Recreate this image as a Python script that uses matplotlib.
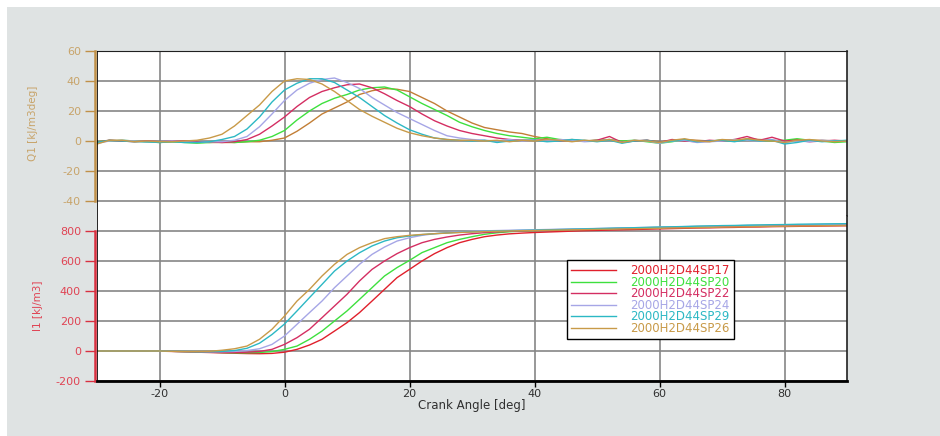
import numpy as np
import matplotlib.pyplot as plt
from matplotlib.patches import Rectangle

plt.rcParams['font.family'] = 'DejaVu Sans'
plt.rcParams['axes.unicode_minus'] = False

# crank angle samples [deg]
crank_angle = list(range(-30, 92, 2))

labels = ["2000H2D44SP17", "2000H2D44SP20", "2000H2D44SP22",
          "2000H2D44SP24", "2000H2D44SP29", "2000H2D44SP26"]

# heat release rate Q1 [kJ/m3deg]
q_sp17 = [-0.5, 0.5, 0, 0, -0.5, -0.5, -0.5, 0, -0.5, -1,
          -1, -1, -0.5, -0.5, 0.5, 2, 6.5, 12, 18, 22, 26, 31, 33.5, 35, 34.5, 33, 29, 25, 20, 16, 12,
          9, 7.5, 6, 5,
          3, 1.5, 0.5, 1, 0, 0.5, 0.5, 0, 0, 0.5, -0.5, 0, 1, 0.5, 0, 0.5, 0, 1.5, 1, 0.5, 0, 1, 0.5, 0.5, 0, 0]
q_sp20 = [-0.5, 0, 0.5, 0, -0.5, -1, -0.5, -1, -1.5, -1,
          -0.5, -1, -0.5, 0.5, 3, 7, 14, 20, 25, 28.5, 31, 34, 35.5, 36, 34, 29.5, 25, 21, 17, 12.5, 9.5,
          7, 5, 3.5, 2.5,
          1.5, 2.5, 1, 0.5, 0, 0.5, 1, 0, 0.5, -0.5, -1.5, -0.5, 1, -0.5, 0, 0.5, 0, 1, 0.5, 0, 0.5, 1.5, 0.5, 0, -1, -0.5]
q_sp22 = [-1, 0.5, 0, -0.5, 0, -0.5, 0, 0, -0.5, -0.5,
          -1, -0.5, 1, 4.5, 10, 16, 23, 29, 33, 35.5, 37.5, 38, 35.5, 31.5, 27, 23, 18, 13.5, 10, 7, 5,
          3.5, 2, 1, 0.5,
          0.5, 1, 0, 0.5, 0, 0.5, 3, -1, 0, 0.5, -1, 1, 0, -0.5, 0.5, 0, 1, 3, 0.5, 2.5, 0, 0.5, -0.5, 0, 0.5, 0]
q_sp24 = [-1.5, 0, 0.5, 0, -0.5, -0.5, 0, -0.5, -1, -0.5,
          -0.5, 0.5, 3, 9.5, 18, 27, 34, 38.5, 41, 42, 39, 35, 29, 24, 19, 15, 11, 7, 3.5, 2, 1,
          0.5, 0, 1, 0,
          0.5, 0, 1, 0.5, -0.5, 0, 1, -1, 0.5, 0, -1.5, 0, 0.5, -1, -0.5, 0, 1, 0.5, 0, 1, -1, 0, -0.5, 0.5, 0, 0]
q_sp29 = [-1, 0.5, 0, -0.5, -0.5, -1, -0.5, -1, -1, -0.5,
          1, 3, 8, 16, 26, 34, 38.5, 41.5, 41.5, 39, 34, 29, 23, 17, 12, 7.5, 4.5, 2, 1, 0.5, 0,
          0.5, -1, 0, 0.5,
          0.5, -0.5, 0, 1, 0.5, -0.5, 0.5, -1.5, 0, 0.5, -1, 0, 1, -0.5, 0, 0.5, -0.5, 1, 0, 0.5, -2, -1, 0.5, -0.5, 0, 0.5]
q_sp26 = [-2, 0.5, 0.5, -0.5, 0, -0.5, -0.5, 0, 0.5, 2,
          4.5, 10, 17, 24, 33, 40, 41.5, 41, 38, 33, 27, 21, 16.5, 12.5, 8.5, 5.5, 3.5, 2, 1, 0.5, 0.5,
          0, 0.5, -0.5, 0.5,
          0, 1, 0.5, -0.5, 0.5, 0, 1, -1, 0.5, 0, -1, 0.5, 1.5, 0, -0.5, 1, 0.5, 1.5, 0.5, 0, -1, 0.5, 1, 0, -0.5, 0]

# integrated heat release I1 [kJ/m3]
i_sp17 = [0, 0, 0, 0, 0, -1, -3, -5, -8, -10,
          -13, -15, -17, -18, -16, -8, 11, 40, 78, 133, 189, 256, 333, 411, 489, 544, 600, 649, 689, 722, 744,
          762, 773, 781, 786,
          790, 793, 796, 799, 802, 804, 806, 808, 810, 812, 814, 816, 818, 820, 821, 823, 824, 826, 827, 829,
          830, 831, 832, 833, 834, 835]
i_sp20 = [0, 0, 0, 0, 0, -1, -2, -4, -6, -8,
          -10, -12, -12, -10, -4, 11, 33, 78, 133, 200, 267, 344, 422, 500, 556, 604, 656, 689, 722, 744, 762,
          778, 788, 795, 800,
          803, 806, 808, 810, 812, 814, 816, 818, 820, 822, 824, 826, 828, 830, 831, 833, 835, 836, 838, 839,
          840, 841, 842, 843, 844, 845]
i_sp22 = [0, 0, 0, 0, 0, -1, -2, -4, -5, -7,
          -9, -10, -8, -3, 11, 44, 89, 145, 222, 300, 378, 467, 544, 600, 649, 689, 722, 744, 760, 773, 782,
          789, 794, 798, 801,
          803, 805, 807, 809, 811, 813, 815, 817, 818, 820, 822, 823, 825, 826, 828, 829, 831, 832, 834, 835,
          836, 838, 839, 840, 841, 842]
i_sp24 = [0, 0, 0, 0, 0, -1, -2, -3, -4, -5,
          -5, -3, 3, 15, 44, 100, 178, 256, 333, 422, 500, 578, 644, 693, 733, 755, 771, 782, 789, 794, 798,
          801, 803, 805, 807,
          808, 810, 812, 814, 815, 817, 819, 821, 822, 824, 826, 827, 829, 831, 832, 834, 835, 837, 838, 840,
          841, 842, 843, 844, 845, 846]
i_sp29 = [0, 0, 0, 0, 0, 0, -2, -3, -4, -4,
          -3, 3, 18, 52, 110, 180, 267, 356, 444, 533, 600, 655, 700, 733, 755, 767, 776, 782, 787, 791, 795,
          798, 800, 802, 804,
          806, 808, 810, 812, 814, 816, 818, 820, 822, 824, 826, 828, 830, 832, 834, 836, 837, 839, 840, 842,
          843, 845, 846, 847, 848, 849]
i_sp26 = [0, 0, 0, 0, 0, 0, -2, -3, -3, -2,
          5, 15, 33, 78, 145, 233, 333, 411, 500, 578, 644, 689, 722, 749, 762, 771, 777, 782, 786, 790, 793,
          796, 798, 800, 802,
          803, 805, 806, 808, 809, 811, 812, 814, 815, 817, 818, 820, 821, 823, 824, 826, 827, 828, 830, 831,
          832, 833, 834, 835, 836, 837]

q_series = [q_sp17, q_sp20, q_sp22, q_sp24, q_sp29, q_sp26]
i_series = [i_sp17, i_sp20, i_sp22, i_sp24, i_sp29, i_sp26]
for s in q_series + i_series:
    assert len(s) == len(crank_angle)

colors = ["#e0202c", "#3ee03e", "#d42e62", "#a6a6e6", "#2cb8c4", "#c89a48"]
top_colors = ["#c27e36", "#3ee03e", "#d42e62", "#a6a6e6", "#2cb8c4", "#c89a48"]

gold = "#c09048"
gold_txt = "#c8a46a"
red = "#d83040"
red_txt = "#e04454"
grid_c = "#868686"

fig = plt.figure(figsize=(9.4, 4.36), dpi=100, facecolor="white")
fig.add_artist(Rectangle((7 / 940, 0), 1, 1 - 7 / 436, transform=fig.transFigure,
                         facecolor="#dfe3e3", edgecolor="none", zorder=-10))

left, width = 97 / 940, 750 / 940
ax1 = fig.add_axes([left, 220 / 436, width, 165 / 436])
ax2 = fig.add_axes([left, 55 / 436, width, 165 / 436])


def style_axis(ax, yticks, spine_c, txt_c, bounds):
    ax.set_facecolor("white")
    ax.set_xlim(-30, 90)
    ax.set_xticks([-20, 0, 20, 40, 60, 80])
    ax.set_yticks(yticks)
    ax.grid(True, color=grid_c, linewidth=1.2)
    ax.set_axisbelow(True)
    ax.spines["left"].set_color(spine_c)
    ax.spines["left"].set_linewidth(1.8)
    ax.spines["left"].set_position(("outward", 1.5))
    ax.spines["left"].set_bounds(*bounds)
    ax.spines["right"].set_color("#202020")
    ax.spines["right"].set_linewidth(1.2)
    ax.axvline(-30, color="black", linewidth=1.2, zorder=3)
    ax.tick_params(axis="y", colors=spine_c, labelcolor=txt_c, length=7, width=1, pad=3,
                   labelsize=8, direction="out")


style_axis(ax1, [-40, -20, 0, 20, 40, 60], gold, gold_txt, (-40, 60))
ax1.set_ylim(-50, 60)
ax1.spines["bottom"].set_visible(False)
ax1.spines["top"].set_color("#202020")
ax1.tick_params(axis="x", bottom=False, labelbottom=False)

style_axis(ax2, [-200, 0, 200, 400, 600, 800], red, red_txt, (-200, 800))
ax2.set_ylim(-200, 900)
ax2.spines["top"].set_visible(False)
ax2.spines["bottom"].set_color("black")
ax2.spines["bottom"].set_linewidth(2)
ax2.tick_params(axis="x", colors="black", labelcolor="#303030", length=4, width=1, pad=2,
                labelsize=8)

for q, c in zip(q_series, top_colors):
    ax1.plot(crank_angle, q, color=c, linewidth=1.0)

handles = []
for i, c, lab in zip(i_series, colors, labels):
    h, = ax2.plot(crank_angle, i, color=c, linewidth=1.0, label=lab)
    handles.append(h)

leg = ax2.legend(handles=handles, loc="upper left", bbox_to_anchor=(567 / 940, 1 - 260 / 436),
                 bbox_transform=fig.transFigure, fontsize=8.5, labelcolor="linecolor",
                 fancybox=False, framealpha=1, edgecolor="black", handlelength=3.8,
                 handletextpad=1.2, labelspacing=-0.12, borderpad=0.35, borderaxespad=0)
leg.get_frame().set_linewidth(1)

fig.text(33 / 940, 1 - 123 / 436, "Q1 [kJ/m3deg]", rotation=90, color=gold_txt,
         fontsize=7.5, ha="center", va="center")
fig.text(38 / 940, 1 - 306 / 436, "I1 [kJ/m3]", rotation=90, color=red_txt,
         fontsize=7.5, ha="center", va="center")
fig.text(472 / 940, 1 - 405 / 436, "Crank Angle [deg]", color="#303030",
         fontsize=8.5, ha="center", va="center")

fig.savefig("out.png", dpi=100)
